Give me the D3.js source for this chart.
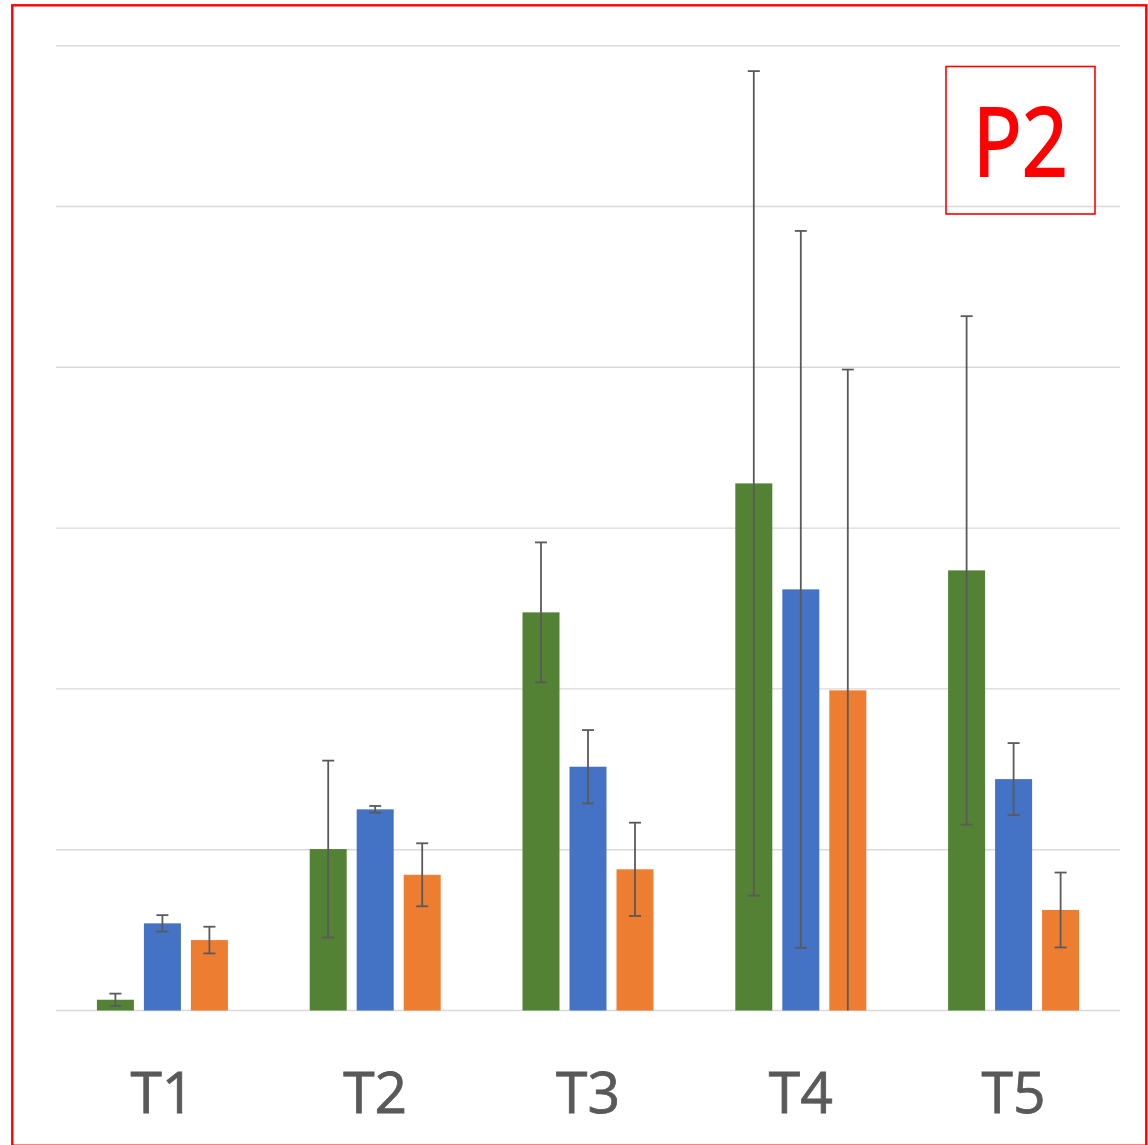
<!DOCTYPE html>
<html>
<head>
<meta charset="utf-8">
<script src="https://cdn.jsdelivr.net/npm/d3@7"></script>
<style>
  html, body { margin: 0; padding: 0; background: #fff; }
  svg { display: block; }
</style>
</head>
<body>
<svg></svg>
<script>
// categories and series (values in gridline units)
const categories = ["T1", "T2", "T3", "T4", "T5"];
const seriesNames = ["green", "blue", "orange"];
const seriesColors = ["#548235", "#4472C4", "#ED7D31"];

const greenValues = [0.067, 1.004, 2.476, 3.278, 2.737];
const greenErrors = [0.038, 0.550, 0.435, 2.564, 1.581];
const blueValues = [0.542, 1.251, 1.516, 2.619, 1.439];
const blueErrors = [0.051, 0.021, 0.228, 2.229, 0.224];
const orangeValues = [0.438, 0.844, 0.878, 1.991, 0.625];
const orangeErrors = [0.083, 0.196, 0.290, 1.995, 0.233];

const yTicks = [0, 1, 2, 3, 4, 5, 6];
const badgeText = "P2";

const width = 1148, height = 1145;
const plot = {left: 56, right: 1120, top: 45.7, bottom: 1010.5};

const svg = d3.select("svg")
    .attr("width", width)
    .attr("height", height);

const x = d3.scaleBand()
    .domain(categories)
    .range([plot.left, plot.right]);

const y = d3.scaleLinear()
    .domain([0, 6])
    .range([plot.bottom, plot.top]);

const barW = 37, barStep = 47;
const sub = d3.scaleOrdinal()
    .domain(seriesNames)
    .range([-barStep, 0, barStep]);

// gridlines
svg.append("g")
    .selectAll("line")
    .data(yTicks)
    .enter()
    .append("line")
    .attr("x1", plot.left)
    .attr("x2", plot.right)
    .attr("y1", d => y(d))
    .attr("y2", d => y(d))
    .attr("stroke", "#D9D9D9")
    .attr("stroke-width", 1.4);

const values = [greenValues, blueValues, orangeValues];
const errors = [greenErrors, blueErrors, orangeErrors];

let rows = [];
seriesNames.forEach((s, si) => {
    categories.forEach((c, ci) => {
        rows.push({cat: c, series: s, color: seriesColors[si], v: values[si][ci], e: errors[si][ci]});
    });
});

const cx = d => x(d.cat) + x.bandwidth() / 2 + sub(d.series);

// bars
svg.append("g")
    .selectAll("rect")
    .data(rows)
    .enter()
    .append("rect")
    .attr("x", d => cx(d) - barW / 2)
    .attr("y", d => y(d.v))
    .attr("width", barW)
    .attr("height", d => y(0) - y(d.v))
    .attr("fill", d => d.color);

// error bars
const errG = svg.append("g")
    .attr("stroke", "#5A5A5A")
    .attr("stroke-width", 1.8);

rows.forEach(d => {
    const hi = y(d.v + d.e);
    const lo = y(Math.max(0, d.v - d.e));
    errG.append("line")
        .attr("x1", cx(d)).attr("x2", cx(d))
        .attr("y1", hi).attr("y2", lo);
    errG.append("line")
        .attr("x1", cx(d) - 6).attr("x2", cx(d) + 6)
        .attr("y1", hi).attr("y2", hi);
    if (d.v - d.e > 0) {
        errG.append("line")
            .attr("x1", cx(d) - 6).attr("x2", cx(d) + 6)
            .attr("y1", lo).attr("y2", lo);
    }
});

// category labels
svg.append("g")
    .selectAll("text")
    .data(categories)
    .enter()
    .append("text")
    .attr("x", d => x(d) + x.bandwidth() / 2)
    .attr("y", 1113)
    .attr("text-anchor", "middle")
    .attr("font-family", "'Open Sans', sans-serif")
    .attr("font-size", 57)
    .attr("fill", "#595959")
    .attr("stroke", "#595959")
    .attr("stroke-width", 0.8)
    .text(d => d);

// P2 badge
svg.append("rect")
    .attr("x", 946)
    .attr("y", 66.5)
    .attr("width", 149)
    .attr("height", 147.5)
    .attr("fill", "none")
    .attr("stroke", "#FF0000")
    .attr("stroke-width", 1.6);

svg.append("text")
    .attr("x", 973)
    .attr("y", 176)
    .attr("font-family", "'Open Sans', sans-serif")
    .attr("font-size", 95)
    .attr("fill", "#FF0000")
    .attr("stroke", "#FF0000")
    .attr("stroke-width", 2)
    .attr("textLength", 95)
    .attr("lengthAdjust", "spacingAndGlyphs")
    .text(badgeText);

// outer red frame
svg.append("rect")
    .attr("x", 12.3)
    .attr("y", 5.3)
    .attr("width", 1134)
    .attr("height", 1140.4)
    .attr("fill", "none")
    .attr("stroke", "#FF0000")
    .attr("stroke-width", 2.4);
</script>
</body>
</html>
